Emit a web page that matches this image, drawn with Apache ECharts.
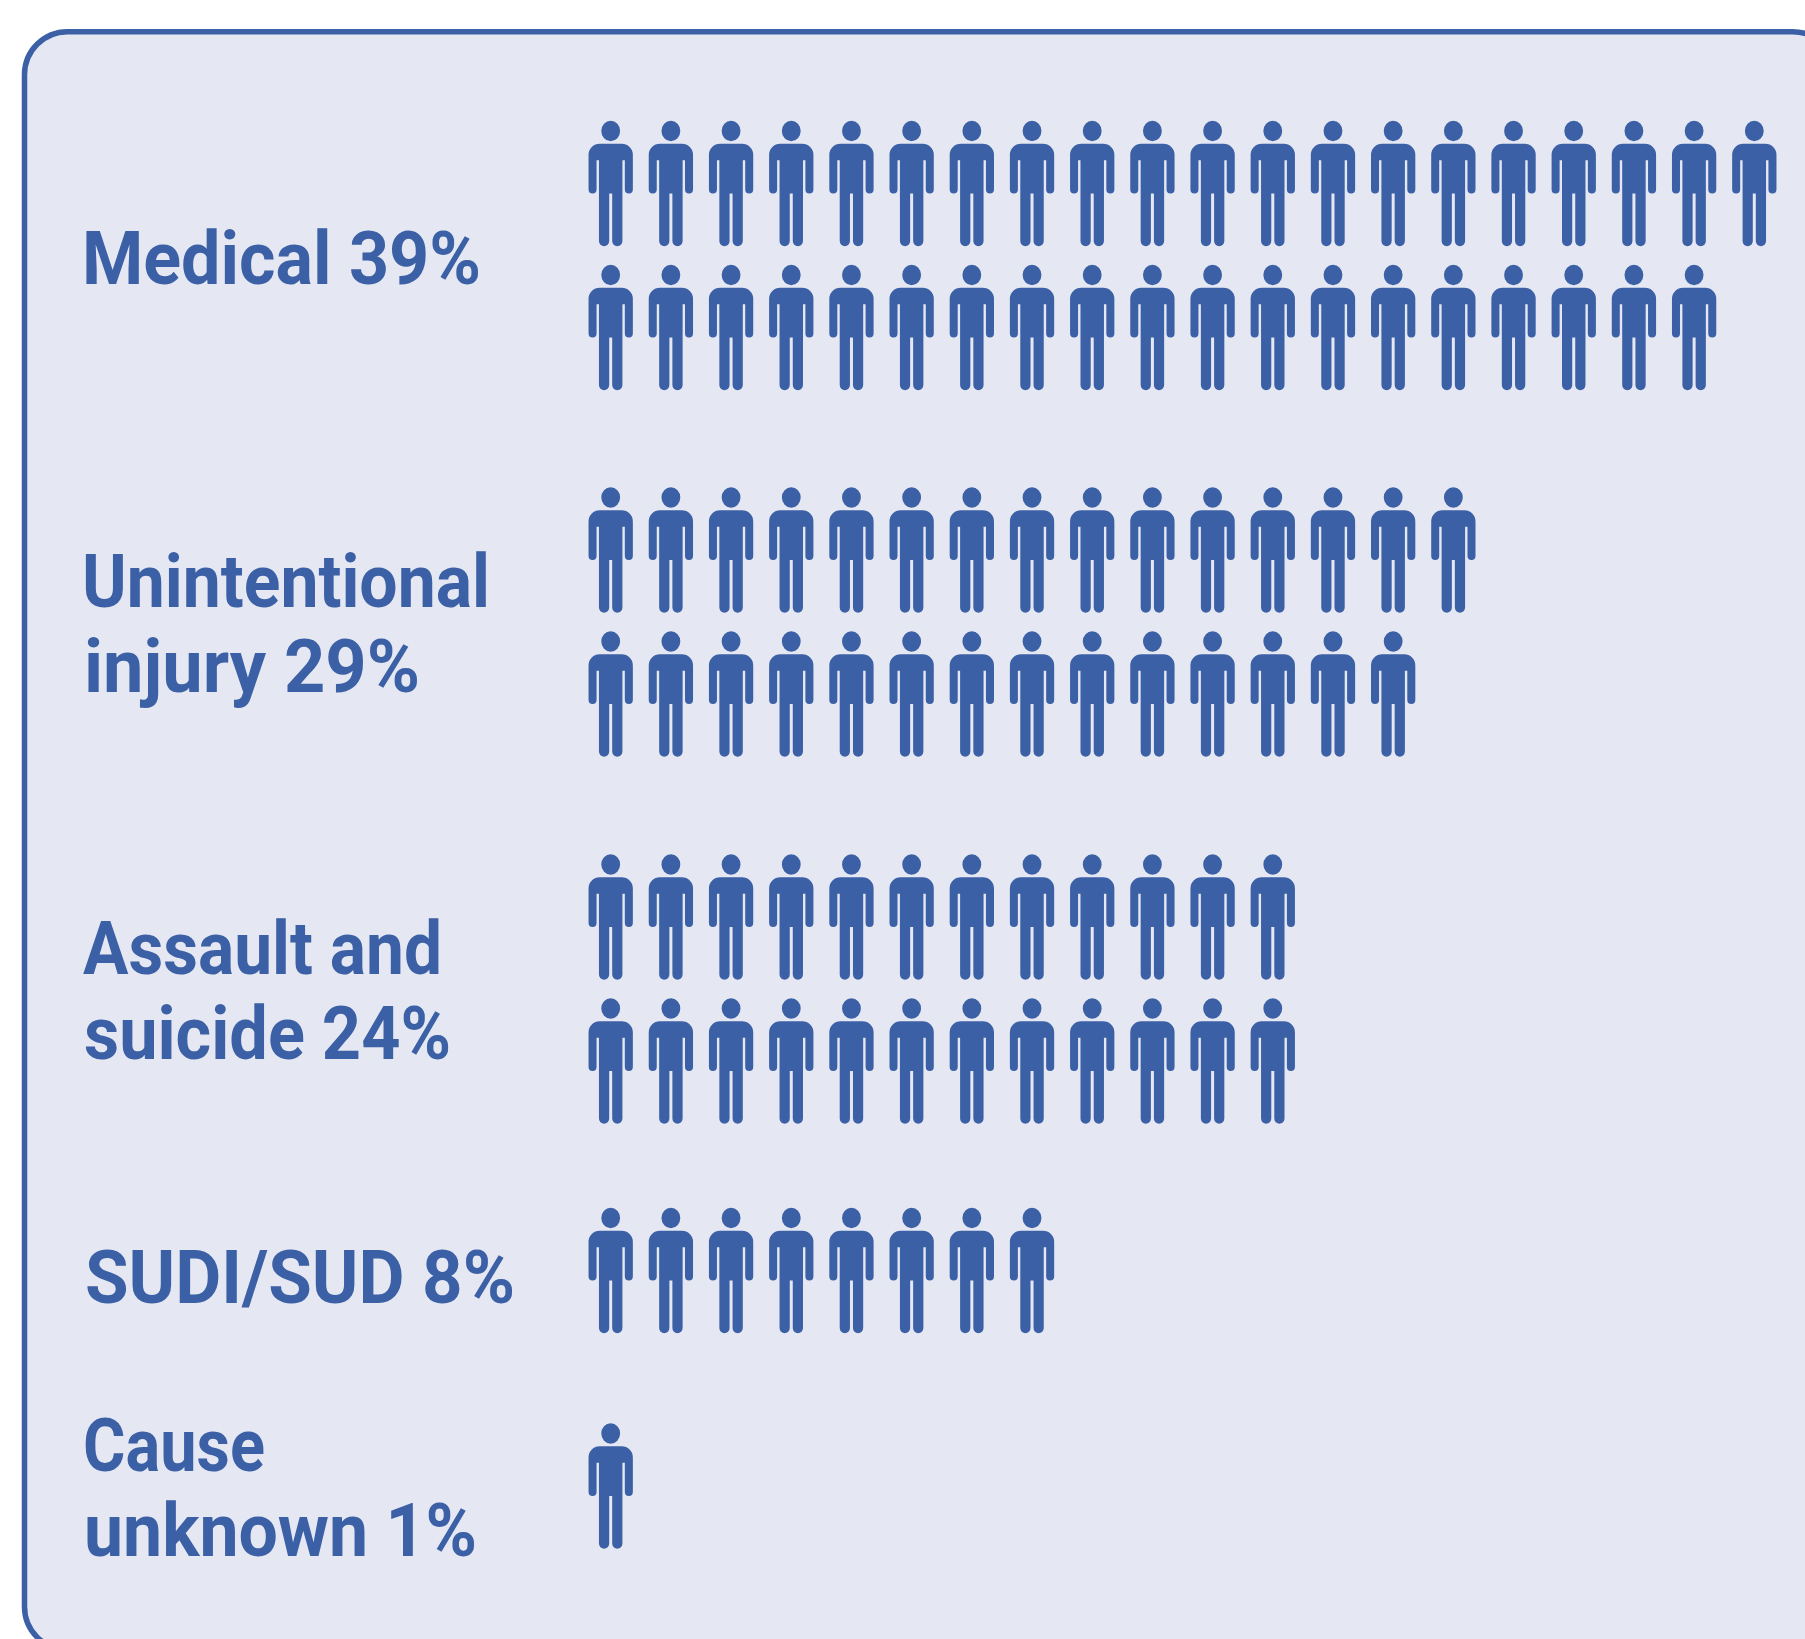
<!DOCTYPE html>
<html><head><meta charset="utf-8"><style>html,body{margin:0;padding:0;background:#fff}#c{width:1805px;height:1639px}</style>
<script src="https://cdn.jsdelivr.net/npm/echarts@6/dist/echarts.min.js"></script></head>
<body><div id="c"></div><script>
const categories = ['Medical', 'Unintentional\ninjury', 'Assault and\nsuicide', 'SUDI/SUD', 'Cause\nunknown'];
const percentages = [39, 29, 24, 8, 1];
const rowCounts = [[20, 19], [15, 14], [12, 12], [8], [1]];
const rowCentres = [[183.5, 327.5], [550, 694], [917, 1061], [1270.5], [1486]];
const labelBaselines = [285, 608, 975, 1304, 1472];
const labelLefts = [[82], [82, 84], [83, 84], [85], [83, 84]];
const labelWidths = [[399], [408, 336], [359, 367], [430], [182, 393]];

const BLUE = '#3c60a5', FILL = '#e5e8f3';
const person = 'path://M-9.4 10.2A9.4 10.2 0 1 1 9.4 10.2A9.4 10.2 0 1 1 -9.4 10.2Z' +
 'M-11 23L11 23A11.1 11.1 0 0 1 22.1 34.1L22.1 68.7A4 4 0 0 1 14.1 68.7L14.1 39.5L11.7 39.5L11.7 120.2A5.1 5.1 0 0 1 1.5 120.2L1.5 72.7L-1.5 72.7L-1.5 120.2A5.1 5.1 0 0 1 -11.7 120.2L-11.7 39.5L-14.1 39.5L-14.1 68.7A4 4 0 0 1 -22.1 68.7L-22.1 34.1A11.1 11.1 0 0 1 -11 23Z';

const points = [];
rowCounts.forEach((rows, g) => rows.forEach((n, r) => {
  for (let i = 1; i <= n; i++) points.push([i - 0.5, rowCentres[g][r]]);
}));

const FONT = 'bold 74px Roboto, sans-serif', LH = 85, BASE_SHIFT = 17;
const ctx = document.createElement('canvas').getContext('2d');
ctx.font = FONT;
const labelEls = categories.map((c, i) => {
  const lines = (c + ' ' + percentages[i] + '%').split('\n');
  return lines.map((t, k) => ({
    type: 'text', silent: true, z: 5,
    x: labelLefts[i][k], y: labelBaselines[i] + k * LH + BASE_SHIFT,
    scaleX: labelWidths[i][k] / ctx.measureText(t).width,
    style: { x: 0, y: 0, text: t, fill: BLUE, verticalAlign: 'bottom', font: FONT, lineHeight: 74 }
  }));
}).flat();

const chart = echarts.init(document.getElementById('c'), null, { renderer: 'canvas' });
chart.setOption({
  animation: false,
  backgroundColor: '#fff',
  grid: { left: 580.6, width: 1203.8, top: 0, height: 1639 },
  xAxis: { type: 'value', min: 0, max: 20, show: false },
  yAxis: { type: 'value', min: 0, max: 1639, inverse: true, show: false },
  graphic: [{
    type: 'rect', z: -1, silent: true,
    shape: { x: 24.5, y: 31.7, width: 1811, height: 1618, r: 43 },
    style: { fill: FILL, stroke: BLUE, lineWidth: 5.5 }
  }].concat(labelEls),
  series: [{
    type: 'scatter', data: points, symbol: person, symbolSize: [44.3, 125.3],
    itemStyle: { color: BLUE, opacity: 1 }, silent: true, clip: false, z: 3
  }]
});
</script></body></html>
